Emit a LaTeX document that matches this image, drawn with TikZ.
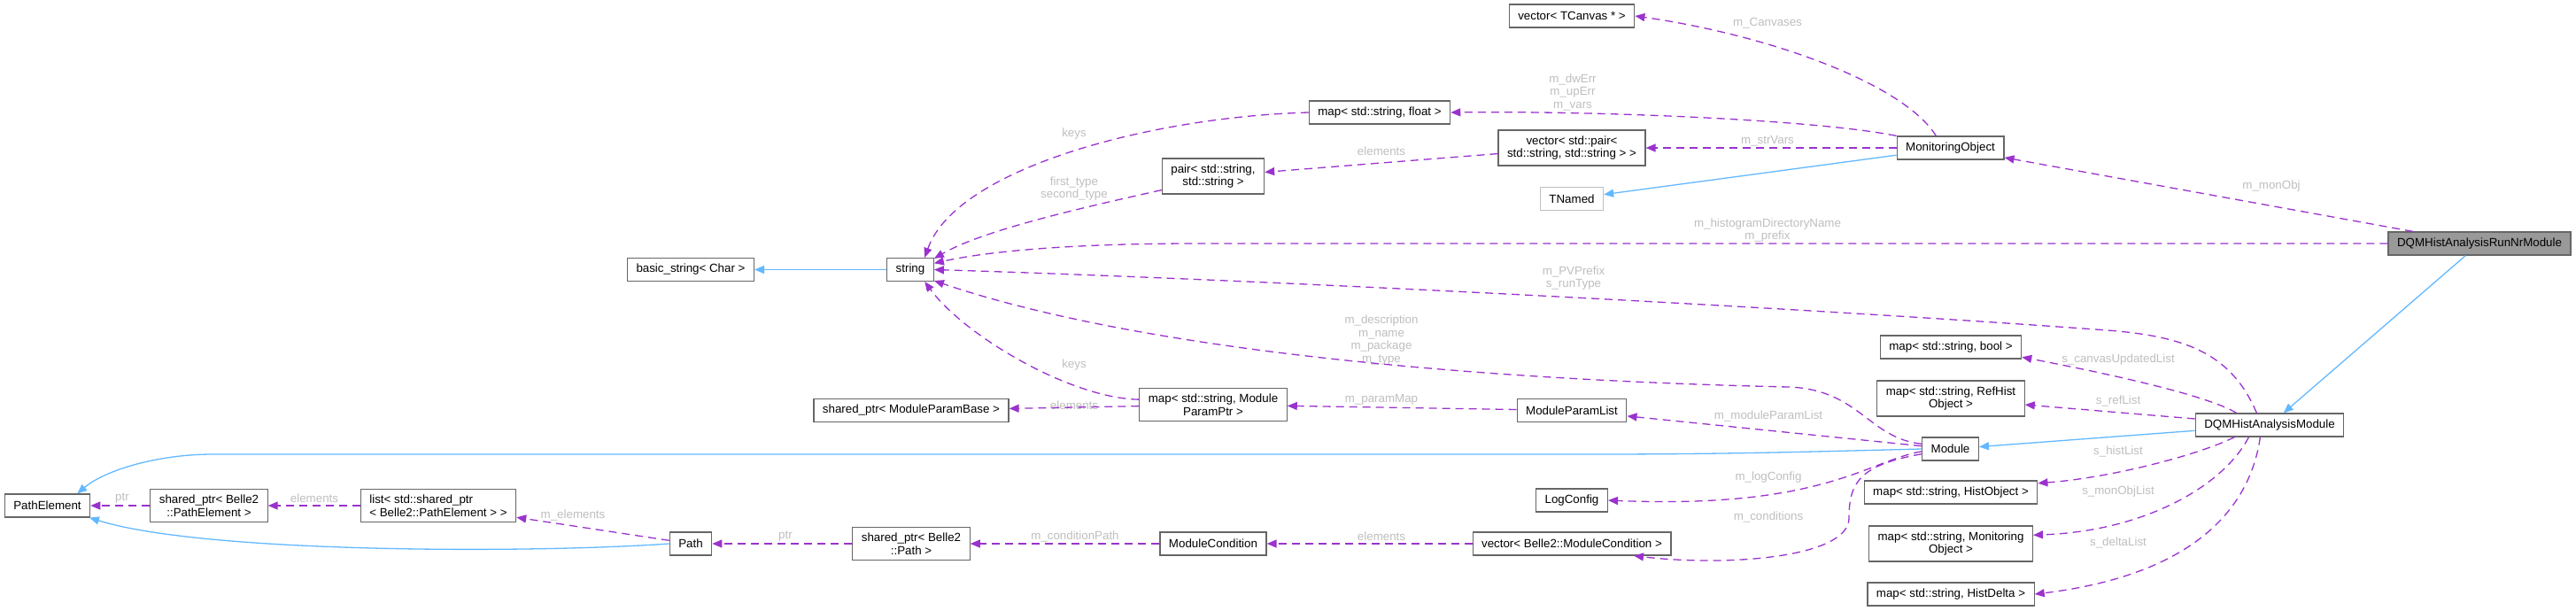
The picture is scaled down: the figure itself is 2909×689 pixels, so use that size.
\documentclass[tikz,border=0pt]{standalone}
\usepackage{fontspec}
\setmainfont{Liberation Sans}
\usetikzlibrary{arrows.meta}
\definecolor{orchid}{HTML}{9A32CD}
\definecolor{skyblue}{HTML}{63B8FF}
\definecolor{boxgray}{HTML}{666666}
\definecolor{fillgray}{HTML}{999999}
\definecolor{lightbox}{HTML}{BFBFBF}
\definecolor{lblgray}{HTML}{BEBEBE}
\begin{document}
\begin{tikzpicture}[x=1pt,y=-1pt,
    cls/.style={draw=boxgray,line width=1.2pt,fill=white,minimum height=26pt,
      inner xsep=10pt,inner ysep=6.5pt,align=center,
      font=\fontsize{13.33}{14.5}\selectfont},
    lbl/.style={text=lblgray,inner sep=0pt,align=center,
      font=\fontsize{13.33}{14.5}\selectfont},
    dep/.style={-{Triangle[length=11pt,width=9pt]},orchid,line width=1.3pt,
      dash pattern=on 9pt off 6pt},
    inh/.style={-{Triangle[length=11pt,width=9pt]},skyblue,line width=1.3pt}]
    \useasboundingbox (0,0) rectangle (2909,689);
    % classes
    \node[cls] (tcan) at (1775,18) {vector< TCanvas * >};
    \node[cls] (mflt) at (1558,127) {map< std::string, float >};
    \node[cls] (vpair) at (1775,167) {vector< std::pair<\\std::string, std::string > >};
    \node[cls] (mon) at (2202.5,167) {MonitoringObject};
    \node[cls] (pair) at (1370,199) {pair< std::string,\\std::string >};
    \node[cls,draw=lightbox] (tnam) at (1775,224.5) {TNamed};
    \node[cls,fill=fillgray] (runnr) at (2800,275) {DQMHistAnalysisRunNrModule};
    \node[cls] (bstr) at (780,304.5) {basic\_string< Char >};
    \node[cls] (str) at (1028,304.5) {string};
    \node[cls] (mbool) at (2203,392) {map< std::string, bool >};
    \node[cls] (mref) at (2203,450) {map< std::string, RefHist\\Object >};
    \node[cls] (mpl) at (1775,463.5) {ModuleParamList};
    \node[cls] (mpar) at (1370,457) {map< std::string, Module\\ParamPtr >};
    \node[cls] (pbase) at (1029,463.5) {shared\_ptr< ModuleParamBase >};
    \node[cls] (dqm) at (2563,480) {DQMHistAnalysisModule};
    \node[cls] (mod) at (2202.5,507) {Module};
    \node[cls] (pel) at (53.5,571) {PathElement};
    \node[cls] (spel) at (236,571) {shared\_ptr< Belle2\\::PathElement >};
    \node[cls,align=left] (lst) at (495,571) {list< std::shared\_ptr\\< Belle2::PathElement > >};
    \node[cls] (logc) at (1775,565) {LogConfig};
    \node[cls] (mhobj) at (2203,556) {map< std::string, HistObject >};
    \node[cls] (path) at (780,614) {Path};
    \node[cls] (spath) at (1029,614) {shared\_ptr< Belle2\\::Path >};
    \node[cls] (mcond) at (1370,614) {ModuleCondition};
    \node[cls] (vcond) at (1775,614) {vector< Belle2::ModuleCondition >};
    \node[cls] (mmon) at (2203,614) {map< std::string, Monitoring\\Object >};
    \node[cls] (mdel) at (2203,671) {map< std::string, HistDelta >};
    % labels
    \node[lbl] (lkeysa) at (1213,151) {keys};
    \node[lbl] (lfirst) at (1213,213) {first\_type\\second\_type};
    \node[lbl] (lelema) at (1560,171) {elements};
    \node[lbl] (lvars) at (1776,104) {m\_dwErr\\m\_upErr\\m\_vars};
    \node[lbl] (lcanv) at (1996,26) {m\_Canvases};
    \node[lbl] (lstrv) at (1996,159) {m\_strVars};
    \node[lbl] (lmono) at (2565,210) {m\_monObj};
    \node[lbl] (lhist) at (1996,260) {m\_histogramDirectoryName\\m\_prefix};
    \node[lbl] (lpvp) at (1777,314) {m\_PVPrefix\\s\_runType};
    \node[lbl] (ldesc) at (1560,384) {m\_description\\m\_name\\m\_package\\m\_type};
    \node[lbl] (lkeysb) at (1213,412) {keys};
    \node[lbl] (lelemb) at (1213,458) {elements};
    \node[lbl] (lpmap) at (1560,451) {m\_paramMap};
    \node[lbl] (lmpl) at (1997,470) {m\_moduleParamList};
    \node[lbl] (llog) at (1997,539) {m\_logConfig};
    \node[lbl] (lcond) at (1997,584) {m\_conditions};
    \node[lbl] (lcpath) at (1214,606) {m\_conditionPath};
    \node[lbl] (lelemc) at (1560,606) {elements};
    \node[lbl] (lptra) at (887,606) {ptr};
    \node[lbl] (lmel) at (647,582) {m\_elements};
    \node[lbl] (lelemd) at (355,563) {elements};
    \node[lbl] (lptrb) at (138,563) {ptr};
    \node[lbl] (lcup) at (2392,406) {s\_canvasUpdatedList};
    \node[lbl] (lref) at (2392,453) {s\_refList};
    \node[lbl] (lhl) at (2392,510) {s\_histList};
    \node[lbl] (lmol) at (2392,555) {s\_monObjList};
    \node[lbl] (ldl) at (2392,613) {s\_deltaList};
    % inheritance
    \path [inh] (str) edge (bstr);
    \path [inh] (mon) edge (tnam);
    \path [inh] (runnr) edge (dqm);
    \path [inh] (dqm) edge (mod);
    \draw [inh] (mod.west) .. controls (2050,510) and (1950,513) .. (1800,513)
      -- (240,513) .. controls (180,513) and (120,530) .. (pel.22);
    \draw [inh] (path.west) .. controls (600,625) and (230,625) .. (pel.-16);
    % usage
    \draw [dep] (mflt.west) .. controls (1300,132) and (1080,190) .. (str.40);
    \draw [dep] (pair.195) .. controls (1220,235) and (1110,260) .. (str.25);
    \path [dep] (vpair) edge (pair);
    \draw [dep] (mon.north west) .. controls (2050,135) and (1800,125) .. (mflt.east);
    \path [dep] (mon) edge (vpair);
    \draw [dep] (mon.140) .. controls (2150,95) and (2000,40) .. (tcan.east);
    \path [dep] (runnr) edge (mon);
    \draw [dep] (runnr.west) -- (1350,275) .. controls (1200,275) and (1110,285) .. (str.15);
    \draw [dep] (dqm.137) .. controls (2520,400) and (2470,380) .. (2380,373)
      .. controls (2000,345) and (1400,315) .. (str.east);
    \draw [dep] (mod.170) .. controls (2110,495) and (2100,440) .. (2020,437)
      .. controls (1700,430) and (1300,400) .. (str.-25);
    \draw [dep] (mpar.176) .. controls (1210,450) and (1090,380) .. (str.-40);
    \path [dep] (mpar) edge (pbase);
    \path [dep] (mpl) edge (mpar);
    \path [dep] (mod) edge (mpl);
    \path [dep] (spel) edge (pel);
    \path [dep] (lst) edge (spel);
    \path [dep] (path) edge (lst);
    \path [dep] (spath) edge (path);
    \path [dep] (mcond) edge (spath);
    \path [dep] (vcond) edge (mcond);
    \draw [dep] (mod.190) .. controls (2100,525) and (2088,545) .. (2088,585)
      .. controls (2088,630) and (1950,640) .. (vcond.-11);
    \draw [dep] (mod.185) .. controls (2110,520) and (2060,575) .. (logc.east);
    \draw [dep] (dqm.160) .. controls (2490,445) and (2370,420) .. (mbool.-8);
    \path [dep] (dqm) edge (mref);
    \draw [dep] (dqm.-161) .. controls (2480,515) and (2380,540) .. (mhobj.6);
    \draw [dep] (dqm.-150) .. controls (2510,550) and (2420,600) .. (mmon.6);
    \draw [dep] (dqm.-128) .. controls (2540,580) and (2470,650) .. (mdel.east);
\end{tikzpicture}
\end{document}
